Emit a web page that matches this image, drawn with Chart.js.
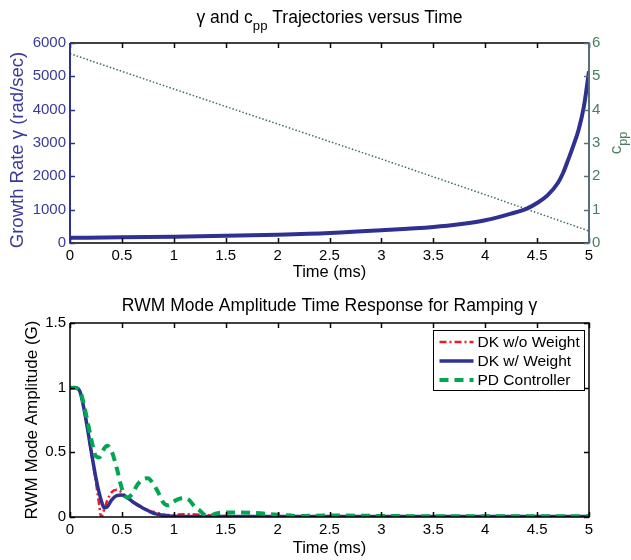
<!DOCTYPE html>
<html>
<head>
<meta charset="utf-8">
<script src="https://cdn.jsdelivr.net/npm/chart.js@4.4.1/dist/chart.umd.min.js"></script>
<style>
	body { margin: 0; background: #fff; }
	#wrap { position: relative; width: 631px; height: 560px; }
	canvas { position: absolute; left: 0; }
</style>
</head>
<body>
<div id="wrap">
	<canvas id="chart-gamma" width="631" height="280" style="top:0"></canvas>
	<canvas id="chart-rwm" width="631" height="280" style="top:280px"></canvas>
</div>
<script>
//---------------------------------------------------------
// Data
//---------------------------------------------------------
const TIME_TICKS = [0, 0.5, 1, 1.5, 2, 2.5, 3, 3.5, 4, 4.5, 5];
const GAMMA_TICKS = [0, 1000, 2000, 3000, 4000, 5000, 6000];
const CPP_TICKS = [0, 1, 2, 3, 4, 5, 6];
const AMP_TICKS = [0, 0.5, 1, 1.5];

// top panel: growth rate and c_pp
const GAMMA_TIME = [0, 0.5, 1, 1.5, 2, 2.5, 3, 3.5, 3.75, 4, 4.25, 4.4, 4.5, 4.6, 4.7, 4.75, 4.8, 4.85, 4.9, 4.95, 5];
const GAMMA = [155, 170, 190, 215, 250, 300, 380, 480, 560, 680, 880, 1030, 1200, 1430, 1800, 2100, 2500, 2930, 3400, 4080, 5150];
const CPP_TIME = [0, 1, 2, 3, 4, 5];
const CPP = [5.68, 4.62, 3.57, 2.52, 1.45, 0.36];

// bottom panel: mode amplitude response
const RESP_TIME = [0, 0.05, 0.08, 0.1, 0.15, 0.2, 0.25, 0.28, 0.3, 0.33, 0.36, 0.4, 0.45, 0.5, 0.55, 0.6, 0.65, 0.7, 0.75, 0.8, 0.85, 0.9, 0.95,
	1.0, 1.05, 1.1, 1.15, 1.2, 1.25, 1.3, 1.35, 1.4, 1.5, 1.6, 1.8, 2.0, 2.2, 2.5, 3, 3.5, 4, 4.5, 5];
const DK_NO_WEIGHT = [1, 1, 0.99, 0.96, 0.77, 0.52, 0.27, 0.1, 0.0, 0.06, 0.13, 0.19, 0.21, 0.19, 0.15, 0.12, 0.09, 0.07, 0.05, 0.04, 0.03, 0.02, 0.015,
	0.015, 0.02, 0.022, 0.022, 0.02, 0.018, 0.015, 0.012, 0.01, 0.008, 0.006, 0.005, 0.004, 0.003, 0.003, 0.003, 0.003, 0.003, 0.003, 0.003];
const DK_WEIGHT = [1, 1, 0.99, 0.96, 0.77, 0.53, 0.3, 0.19, 0.13, 0.07, 0.08, 0.13, 0.165, 0.17, 0.15, 0.12, 0.095, 0.07, 0.05, 0.03, 0.02, 0.012, 0.007,
	0.005, 0.004, 0.004, 0.004, 0.004, 0.003, 0.003, 0.003, 0.003, 0.003, 0.003, 0.003, 0.003, 0.003, 0.003, 0.003, 0.003, 0.003, 0.003, 0.003];
const PD_CONTROLLER = [1, 1, 0.99, 0.97, 0.81, 0.62, 0.47, 0.46, 0.48, 0.53, 0.55, 0.51, 0.38, 0.22, 0.15, 0.18, 0.25, 0.29, 0.3, 0.26, 0.19, 0.11, 0.09,
	0.12, 0.14, 0.145, 0.13, 0.08, 0.05, 0.015, 0.01, 0.025, 0.035, 0.035, 0.03, 0.018, 0.008, 0.012, 0.008, 0.006, 0.006, 0.006, 0.006];
const LEGEND_LABELS = ["DK w/o Weight", "DK w/ Weight", "PD Controller"];

//---------------------------------------------------------
// Styles
//---------------------------------------------------------
const FONT = "'Liberation Sans', Arial, Helvetica, sans-serif";
const BLUE = "#2e3192";
const BLUE_TEXT = "#3a3a98";
const GREEN_TEXT = "#4b7d5e";
const SLATE = "#566f7e";
const RED = "#ed1c24";
const GREEN = "#00a651";
const DOT_GREEN = "#3f705c";

Chart.defaults.font.family = FONT;
Chart.defaults.font.size = 15;
Chart.defaults.color = "#000";

const xy = (xs, ys) => xs.map((x, i) => ({ x, y: ys[i] }));
const fixTicks = (list) => (scale) => { scale.ticks = list.map((v) => ({ value: v })); };
const fixWidth = (w) => (scale) => { scale.width = w; };
const fixHeight = (h) => (scale) => { scale.height = h; };
const NO_GRID = { display: false, drawTicks: false };

// text with subscripts: parts = [[text, isSub], ...]
const drawRich = (ctx, parts, x, y, size, color) => {
	const subSize = size * 0.75;
	const widths = parts.map(([t, sub]) => {
		ctx.font = `${sub ? subSize : size}px ${FONT}`;
		return ctx.measureText(t).width;
	});
	let cx = x - widths.reduce((a, b) => a + b, 0) / 2;
	ctx.fillStyle = color;
	ctx.textBaseline = "alphabetic";
	ctx.textAlign = "left";
	parts.forEach(([t, sub], i) => {
		ctx.font = `${sub ? subSize : size}px ${FONT}`;
		ctx.fillText(t, cx, sub ? y + size * 0.38 : y);
		cx += widths[i];
	});
};

// frame, inward ticks, titles, legend
const decorPlugin = {
	id: "decor",
	afterDraw(chart, args, o) {
		const { ctx, chartArea: a, scales } = chart;
		const seg = (x1, y1, x2, y2) => { ctx.beginPath(); ctx.moveTo(x1, y1); ctx.lineTo(x2, y2); ctx.stroke(); };
		ctx.save();
		ctx.lineWidth = 1.5;
		ctx.lineCap = "butt";

		// x ticks top and bottom
		ctx.strokeStyle = "#000";
		TIME_TICKS.forEach((v) => {
			const px = Math.round(scales.x.getPixelForValue(v)) + 0.5;
			seg(px, a.bottom, px, a.bottom - 5);
			seg(px, a.top, px, a.top + 5);
		});
		seg(a.left, a.top, a.right, a.top);
		seg(a.left, a.bottom, a.right, a.bottom);

		// left axis
		ctx.strokeStyle = o.leftColor;
		o.leftTicks.forEach((v) => {
			const py = Math.round(scales.y.getPixelForValue(v)) + 0.5;
			seg(a.left, py, a.left + 5, py);
		});
		ctx.lineWidth = o.leftWidth;
		seg(a.left, a.top, a.left, a.bottom + 0.75);

		// right axis
		ctx.lineWidth = 1.5;
		ctx.strokeStyle = o.rightColor;
		const rs = scales[o.rightScale];
		o.rightTicks.forEach((v) => {
			const py = Math.round(rs.getPixelForValue(v)) + 0.5;
			seg(a.right, py, a.right - 5, py);
		});
		ctx.lineWidth = o.rightWidth;
		seg(a.right, a.top - 0.75, a.right, a.bottom + 0.75);

		// titles
		const mid = (a.left + a.right) / 2;
		drawRich(ctx, o.title, mid, o.titleY, 17.5, "#000");
		drawRich(ctx, [["Time (ms)", false]], mid, o.xLabelY, 16.5, "#000");

		ctx.save();
		ctx.translate(o.yLabel.x, (a.top + a.bottom) / 2 + o.yLabel.dy);
		ctx.rotate(-Math.PI / 2);
		drawRich(ctx, o.yLabel.parts, 0, 0, o.yLabel.size, o.yLabel.color);
		ctx.restore();

		if (o.y1Label) {
			ctx.save();
			ctx.translate(o.y1Label.x, (a.top + a.bottom) / 2);
			ctx.rotate(-Math.PI / 2);
			drawRich(ctx, o.y1Label.parts, 0, 0, 17, o.y1Label.color);
			ctx.restore();
		}

		// legend box
		if (o.legend) {
			const w = 151, h = 60;
			const bx = a.right - 5 - w + 0.5, by = a.top + 7 + 0.5;
			ctx.fillStyle = "#fff";
			ctx.fillRect(bx, by, w, h);
			ctx.strokeStyle = "#000";
			ctx.lineWidth = 1;
			ctx.strokeRect(bx, by, w, h);
			LEGEND_LABELS.forEach((label, i) => {
				const ds = chart.data.datasets[i];
				const ly = by + 11.5 + i * 19;
				ctx.save();
				ctx.strokeStyle = ds.borderColor;
				ctx.lineWidth = ds.borderWidth;
				ctx.setLineDash(ds.borderDash || []);
				seg(bx + 6, ly, bx + 40, ly);
				ctx.restore();
				ctx.fillStyle = "#000";
				ctx.font = `15.5px ${FONT}`;
				ctx.textAlign = "left";
				ctx.textBaseline = "middle";
				ctx.fillText(label, bx + 44, ly + 1);
			});
		}
		ctx.restore();
	},
};

const baseX = (h) => ({
	type: "linear",
	min: 0,
	max: 5,
	afterBuildTicks: fixTicks(TIME_TICKS),
	afterFit: fixHeight(h),
	grid: NO_GRID,
	border: { display: false },
	ticks: { autoSkip: false, maxRotation: 0, padding: 4, color: "#000", callback: (v) => String(v) },
});

//---------------------------------------------------------
// Top chart: gamma and c_pp
//---------------------------------------------------------
const GAMMA_CONFIG = {
	type: "line",
	data: {
		datasets: [
			{
				label: "gamma",
				data: xy(GAMMA_TIME, GAMMA),
				yAxisID: "y",
				borderColor: BLUE,
				borderWidth: 4,
				cubicInterpolationMode: "monotone",
				pointRadius: 0,
				order: 1,
			},
			{
				label: "cpp",
				data: xy(CPP_TIME, CPP),
				yAxisID: "y1",
				borderColor: DOT_GREEN,
				borderWidth: 1.5,
				borderDash: [1.5, 2],
				pointRadius: 0,
				order: 2,
			},
		],
	},
	options: {
		responsive: false,
		animation: false,
		layout: { padding: { top: 43, left: 0, right: 0, bottom: 0 } },
		scales: {
			x: baseX(37),
			y: {
				position: "left",
				min: 0,
				max: 6000,
				afterBuildTicks: fixTicks(GAMMA_TICKS),
				afterFit: fixWidth(70),
				grid: NO_GRID,
				border: { display: false },
				ticks: { padding: 4, color: BLUE_TEXT, autoSkip: false, callback: (v) => String(v) },
			},
			y1: {
				position: "right",
				min: 0,
				max: 6,
				afterBuildTicks: fixTicks(CPP_TICKS),
				afterFit: fixWidth(42),
				grid: NO_GRID,
				border: { display: false },
				ticks: { padding: 3, color: GREEN_TEXT, autoSkip: false, callback: (v) => String(v) },
			},
		},
		plugins: {
			legend: { display: false },
			tooltip: { enabled: false },
			decor: {
				title: [["γ and c", false], ["pp", true], [" Trajectories versus Time", false]],
				titleY: 23,
				xLabelY: 277,
				leftColor: BLUE,
				leftWidth: 2,
				leftTicks: GAMMA_TICKS,
				rightScale: "y1",
				rightColor: SLATE,
				rightWidth: 2,
				rightTicks: CPP_TICKS,
				yLabel: { x: 23, dy: 7, size: 18.5, color: BLUE_TEXT, parts: [["Growth Rate γ (rad/sec)", false]] },
				y1Label: { x: 621, color: GREEN_TEXT, parts: [["c", false], ["pp", true]] },
			},
		},
	},
	plugins: [decorPlugin],
};

//---------------------------------------------------------
// Bottom chart: RWM amplitude
//---------------------------------------------------------
const RWM_CONFIG = {
	type: "line",
	data: {
		datasets: [
			{
				label: LEGEND_LABELS[0],
				data: xy(RESP_TIME, DK_NO_WEIGHT),
				borderColor: RED,
				borderWidth: 2.5,
				borderDash: [7, 3, 2, 3],
				cubicInterpolationMode: "monotone",
				pointRadius: 0,
				order: 3,
			},
			{
				label: LEGEND_LABELS[1],
				data: xy(RESP_TIME, DK_WEIGHT),
				borderColor: BLUE,
				borderWidth: 3.5,
				cubicInterpolationMode: "monotone",
				pointRadius: 0,
				order: 2,
			},
			{
				label: LEGEND_LABELS[2],
				data: xy(RESP_TIME, PD_CONTROLLER),
				borderColor: GREEN,
				borderWidth: 4,
				borderDash: [9, 6],
				cubicInterpolationMode: "monotone",
				pointRadius: 0,
				order: 1,
			},
		],
	},
	options: {
		responsive: false,
		animation: false,
		layout: { padding: { top: 43, left: 0, right: 42, bottom: 0 } },
		scales: {
			x: baseX(43),
			y: {
				min: 0,
				max: 1.5,
				afterBuildTicks: fixTicks(AMP_TICKS),
				afterFit: fixWidth(70),
				grid: NO_GRID,
				border: { display: false },
				ticks: { padding: 4, color: "#000", autoSkip: false, callback: (v) => String(v) },
			},
		},
		plugins: {
			legend: { display: false },
			tooltip: { enabled: false },
			decor: {
				title: [["RWM Mode Amplitude Time Response for Ramping γ", false]],
				titleY: 31,
				xLabelY: 273,
				leftColor: "#000",
				leftWidth: 1.5,
				leftTicks: AMP_TICKS,
				rightScale: "y",
				rightColor: "#000",
				rightWidth: 1.5,
				rightTicks: AMP_TICKS,
				yLabel: { x: 37, dy: 0, size: 17, color: "#000", parts: [["RWM Mode Amplitude (G)", false]] },
				legend: true,
			},
		},
	},
	plugins: [decorPlugin],
};

new Chart(document.getElementById("chart-gamma"), GAMMA_CONFIG);
new Chart(document.getElementById("chart-rwm"), RWM_CONFIG);
</script>
</body>
</html>
